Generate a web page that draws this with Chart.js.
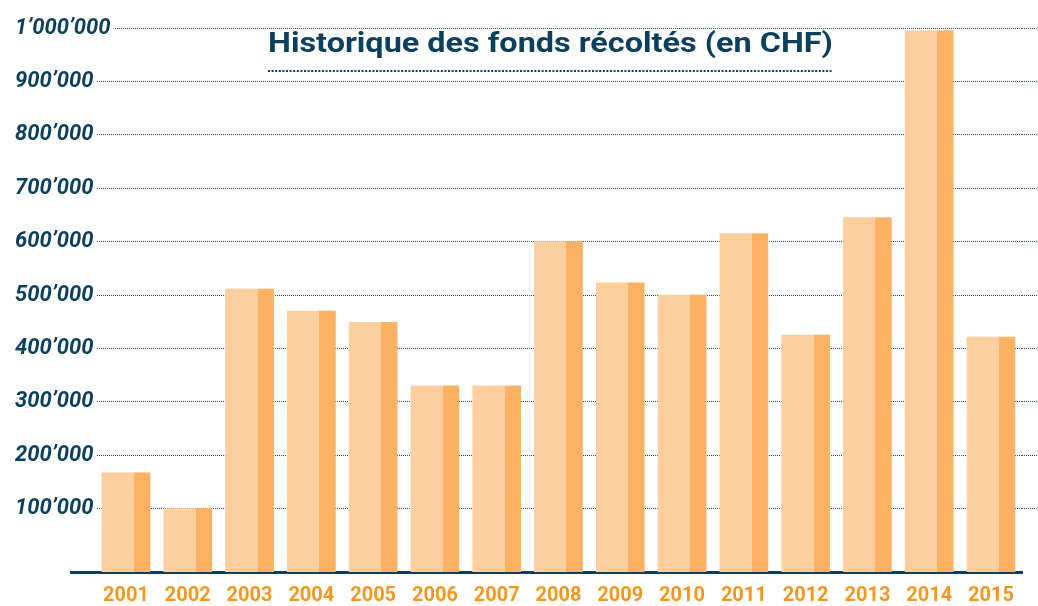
<!DOCTYPE html>
<html>
<head>
<meta charset="utf-8">
<script src="https://cdn.jsdelivr.net/npm/chart.js@4.4.1/dist/chart.umd.min.js"></script>
<style>
  html, body { margin: 0; padding: 0; background: #ffffff; }
  #wrap { width: 1038px; height: 606px; position: relative; }
</style>
</head>
<body>
<div id="wrap"><canvas id="funds-chart"></canvas></div>
<script>
// data
const years = [2001, 2002, 2003, 2004, 2005, 2006, 2007, 2008, 2009, 2010, 2011, 2012, 2013, 2014, 2015];
const funds = [167000, 100000, 511000, 470000, 449000, 330000, 330000, 600000, 523000, 500000, 615000, 425000, 645000, 995000, 421000];
const yTickValues = [100000, 200000, 300000, 400000, 500000, 600000, 700000, 800000, 900000, 1000000];
const yTickLabels = ["100’000", "200’000", "300’000", "400’000", "500’000", "600’000", "700’000", "800’000", "900’000", "1’000’000"];
const chartTitle = "Historique des fonds récoltés (en CHF)";

// styling
const NAVY = "#0b3f5e";
const ORANGE = "#f7961f";
const LIGHT = "#fdcf9e";
const DARK = "#fcb163";
const GRID = "#24506b";
const BAR_W = 48;
const Y_MIN = -18700;
const Y_MAX = 1000000;
const TITLE_W = 565;

// two-tone bar: light 2/3 on the left, darker 1/3 on the right
function barFill(ctx) {
    const chart = ctx.chart;
    const xs = chart.scales.x;
    if (!xs || ctx.dataIndex === undefined) return LIGHT;
    const cx = xs.getPixelForValue(years[ctx.dataIndex]);
    if (!Number.isFinite(cx)) return LIGHT;
    const g = chart.ctx.createLinearGradient(cx - BAR_W / 2, 0, cx + BAR_W / 2, 0);
    g.addColorStop(0, LIGHT);
    g.addColorStop(2 / 3, LIGHT);
    g.addColorStop(2 / 3, DARK);
    g.addColorStop(1, DARK);
    return g;
}

// title with dotted underline, drawn inside the plot area
const titlePlugin = {
    id: "insideTitle",
    afterDraw(chart) {
        const { ctx, chartArea } = chart;
        ctx.save();
        ctx.font = "bold 27px Roboto, 'Noto Sans', sans-serif";
        const raw = ctx.measureText(chartTitle).width;
        const stretch = TITLE_W / raw;
        const cx = (chartArea.left + chartArea.right) / 2 + 4;
        const x0 = cx - TITLE_W / 2;
        ctx.fillStyle = NAVY;
        ctx.textAlign = "left";
        ctx.textBaseline = "alphabetic";
        ctx.save();
        ctx.translate(x0, 52);
        ctx.scale(stretch, 1);
        ctx.fillText(chartTitle, 0, 0);
        ctx.restore();
        ctx.strokeStyle = NAVY;
        ctx.lineWidth = 2;
        ctx.setLineDash([2, 1.6]);
        ctx.beginPath();
        ctx.moveTo(x0, 71);
        ctx.lineTo(x0 + TITLE_W, 71);
        ctx.stroke();
        ctx.restore();
    },
};

const chartCanvas = document.getElementById("funds-chart");

const fundsChart = new Chart(chartCanvas, {
    type: "bar",
    data: {
        datasets: [
            {
                label: "Fonds récoltés",
                data: years.map((yr, i) => ({ x: yr, y: funds[i] })),
                backgroundColor: barFill,
                borderWidth: 0,
                barThickness: BAR_W,
                base: Y_MIN,
            },
        ],
    },
    options: {
        responsive: true,
        maintainAspectRatio: false,
        animation: false,
        layout: {
            padding: { top: 28, left: 71, right: 0, bottom: 0 },
        },
        scales: {
            x: {
                type: "linear",
                offset: false,
                min: 2000.11,
                max: 2015.502,
                afterBuildTicks: (scale) => {
                    scale.ticks = years.map((v) => ({ value: v }));
                },
                afterFit: (scale) => {
                    scale.height = 34;
                },
                grid: { display: false, drawTicks: false, offset: false },
                border: { display: true, color: NAVY, width: 3 },
                ticks: {
                    autoSkip: false,
                    maxRotation: 0,
                    padding: 14,
                    color: ORANGE,
                    font: { family: "Roboto, 'Noto Sans', sans-serif", size: 20, weight: "bold", lineHeight: 1 },
                    callback: (v) => String(v),
                },
            },
            y: {
                min: Y_MIN,
                max: Y_MAX,
                afterBuildTicks: (scale) => {
                    scale.ticks = yTickValues.map((v) => ({ value: v }));
                },
                afterFit: (scale) => {
                    scale.width = 0;
                },
                grid: {
                    display: true,
                    drawTicks: false,
                    color: GRID,
                    lineWidth: 1,
                },
                border: { display: false, dash: [1, 1] },
                ticks: {
                    mirror: true,
                    padding: -56,
                    color: NAVY,
                    showLabelBackdrop: true,
                    backdropColor: "#ffffff",
                    backdropPadding: { top: 2, bottom: 2, left: 2, right: 3 },
                    font: { family: "Roboto, 'Noto Sans', sans-serif", size: 22, weight: "bold", style: "italic" },
                    callback: (v) => yTickLabels[yTickValues.indexOf(v)],
                },
            },
            yEdge: {
                position: "right",
                min: Y_MIN,
                max: Y_MAX,
                afterBuildTicks: (scale) => {
                    scale.ticks = yTickValues.map((v) => ({ value: v }));
                },
                grid: {
                    drawOnChartArea: false,
                    drawTicks: true,
                    tickLength: 16,
                    tickColor: GRID,
                    tickWidth: 1,
                    tickBorderDash: [1, 1],
                },
                border: { display: false },
                ticks: { display: false },
            },
        },
        plugins: {
            legend: { display: false },
            tooltip: { enabled: false },
            title: { display: false },
        },
    },
    plugins: [titlePlugin],
});
</script>
</body>
</html>
